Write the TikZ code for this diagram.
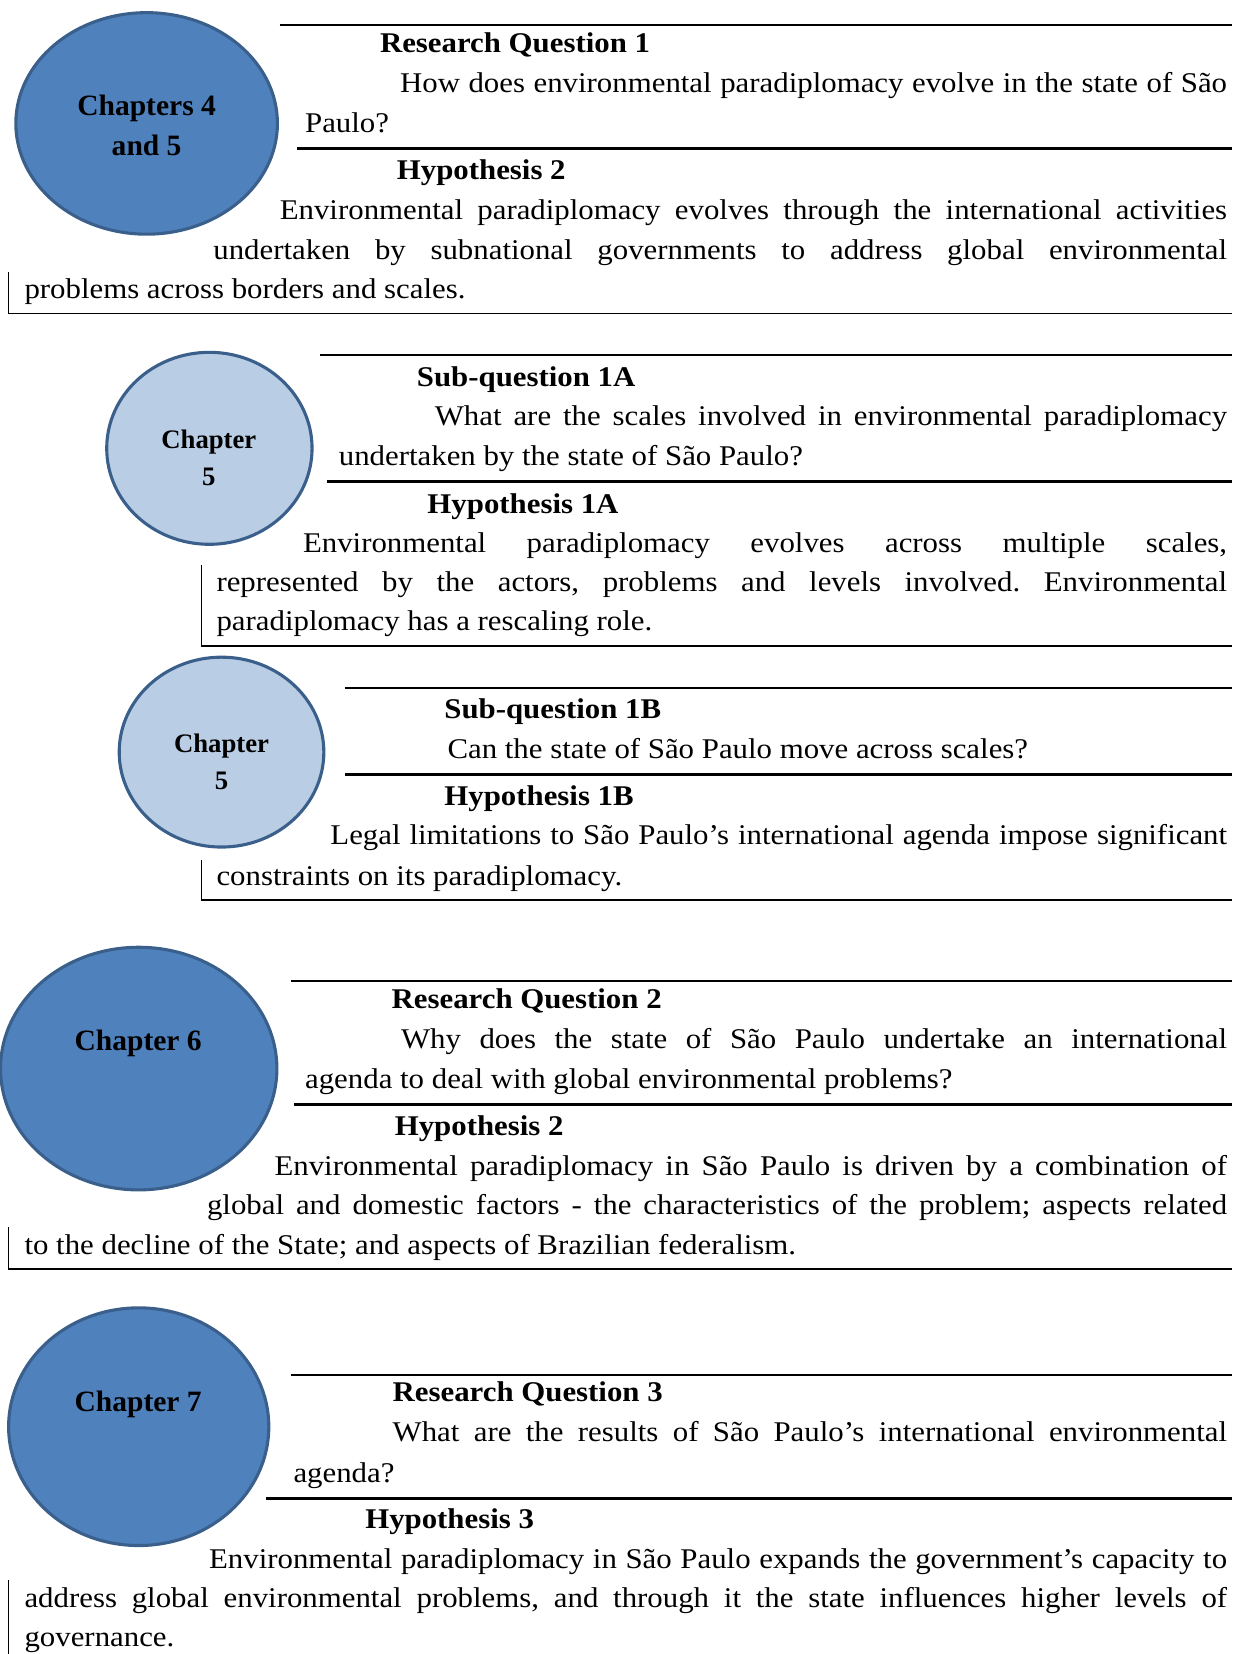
\documentclass[tikz,border=0pt]{standalone}
\usepackage{fontspec}
\setmainfont{Liberation Serif}[FakeStretch=1.08]
\newfontfamily\chapfont{Liberation Serif}
\usetikzlibrary{shapes.geometric}

\definecolor{discdark}{HTML}{4F81BD}
\definecolor{disclight}{HTML}{B9CDE5}
\definecolor{discline}{HTML}{3A5F8B}

\newlength\pxu
\setlength\pxu{0.75pt}
\newcommand\fitline[2]{\makebox[#1\pxu][s]{#2}}
\frenchspacing

\begin{document}
\begin{tikzpicture}[x=0.75pt, y=-0.75pt,
  bigdisc/.style={ellipse, draw=discline, fill=discdark, line width=2.2pt, inner sep=0pt},
  smalldisc/.style={ellipse, draw=discline, fill=disclight, line width=2.2pt, inner sep=0pt},
  chaplabel/.style={align=center, inner sep=0pt, font=\chapfont\bfseries\fontsize{21}{28.5}\selectfont},
  smalllabel/.style={align=center, inner sep=0pt, font=\chapfont\bfseries\fontsize{19}{26}\selectfont},
  head/.style={anchor=base west, inner sep=0pt, font=\fontsize{20.3}{28}\selectfont\bfseries},
  txt/.style={anchor=base west, inner sep=0pt, font=\fontsize{20.3}{28}\selectfont},
  toprule/.style={line width=1.4pt},
  midrule/.style={line width=2.1pt},
  siderule/.style={line width=1.1pt}]
  \useasboundingbox (0,0) rectangle (1168,1568);

  % Research question 1
  \node[bigdisc, minimum width=186pt, minimum height=157.5pt] (d1) at (139,117) {};
  \node[chaplabel] (c1) at (139,119) {Chapters 4\\and 5};
  \draw[toprule] (265,23.7) -- (1168,23.7);
  \node[head] (rq1) at (360,50) {Research Question 1};
  \node[txt] (rq1a) at (379,88) {\fitline{784}{How does environmental paradiplomacy evolve in the state of São}};
  \node[txt] (rq1b) at (289,126) {Paulo?};
  \draw[midrule] (282,141) -- (1168,141);
  \node[head] (h1) at (376,170) {Hypothesis 2};
  \node[txt] (h1a) at (265,208) {\fitline{898}{Environmental paradiplomacy evolves through the international activities}};
  \node[txt] (h1b) at (202,246) {\fitline{961}{undertaken by subnational governments to address global environmental}};
  \node[txt] (h1c) at (23,283) {problems across borders and scales.};
  \draw[siderule] (8,258) -- (8,297) -- (1168,297);

  % Sub-question 1A
  \node[smalldisc, minimum width=146pt, minimum height=136.5pt] (d2) at (198.5,425) {};
  \node[smalllabel] (c2) at (198,434) {Chapter\\5};
  \draw[toprule] (303,336.5) -- (1168,336.5);
  \node[head] (sq1) at (395,366) {Sub-question 1A};
  \node[txt] (sq1a) at (412,403) {\fitline{751}{What are the scales involved in environmental paradiplomacy}};
  \node[txt] (sq1b) at (321,441) {undertaken by the state of São Paulo?};
  \draw[midrule] (310,456.5) -- (1168,456.5);
  \node[head] (h2) at (405,487) {Hypothesis 1A};
  \node[txt] (h2a) at (287,524) {\fitline{876}{Environmental paradiplomacy evolves across multiple scales,}};
  \node[txt] (h2b) at (205,561) {\fitline{958}{represented by the actors, problems and levels involved. Environmental}};
  \node[txt] (h2c) at (205,598) {paradiplomacy has a rescaling role.};
  \draw[siderule] (191,536) -- (191,612.5) -- (1168,612.5);

  % Sub-question 1B
  \node[smalldisc, minimum width=145.5pt, minimum height=135pt] (d3) at (210,713) {};
  \node[smalllabel] (c3) at (210,722) {Chapter\\5};
  \draw[toprule] (327,652) -- (1168,652);
  \node[head] (sq2) at (421,681) {Sub-question 1B};
  \node[txt] (sq2a) at (424,719) {Can the state of São Paulo move across scales?};
  \draw[midrule] (327,734) -- (1168,734);
  \node[head] (h3) at (421,764) {Hypothesis 1B};
  \node[txt] (h3a) at (313,801) {\fitline{850}{Legal limitations to São Paulo’s international agenda impose significant}};
  \node[txt] (h3b) at (205,839) {constraints on its paradiplomacy.};
  \draw[siderule] (191,815) -- (191,853) -- (1168,853);

  % Research question 2
  \node[bigdisc, minimum width=196.5pt, minimum height=172.5pt] (d4) at (131.5,1013) {};
  \node[chaplabel] (c4) at (131,989) {Chapter 6};
  \draw[toprule] (276,930) -- (1168,930);
  \node[head] (rq2) at (371,956) {Research Question 2};
  \node[txt] (rq2a) at (380,994) {\fitline{783}{Why does the state of São Paulo undertake an international}};
  \node[txt] (rq2b) at (289,1032) {agenda to deal with global environmental problems?};
  \draw[midrule] (279,1047) -- (1168,1047);
  \node[head] (h4) at (374,1076) {Hypothesis 2};
  \node[txt] (h4a) at (260,1114) {\fitline{903}{Environmental paradiplomacy in São Paulo is driven by a combination of}};
  \node[txt] (h4b) at (196,1151) {\fitline{967}{global and domestic factors - the characteristics of the problem; aspects related}};
  \node[txt] (h4c) at (23,1189) {to the decline of the State; and aspects of Brazilian federalism.};
  \draw[siderule] (8,1163) -- (8,1203) -- (1168,1203);

  % Research question 3
  \node[bigdisc, minimum width=185pt, minimum height=169pt] (d5) at (131.5,1352.5) {};
  \node[chaplabel] (c5) at (131,1331) {Chapter 7};
  \draw[toprule] (276,1303.5) -- (1168,1303.5);
  \node[head] (rq3) at (372,1329) {Research Question 3};
  \node[txt] (rq3a) at (372,1367) {\fitline{791}{What are the results of São Paulo’s international environmental}};
  \node[txt] (rq3b) at (278,1405) {agenda?};
  \draw[midrule] (252,1420.5) -- (1168,1420.5);
  \node[head] (h5) at (346,1449) {Hypothesis 3};
  \node[txt] (h5a) at (198,1487) {\fitline{965}{Environmental paradiplomacy in São Paulo expands the government’s capacity to}};
  \node[txt] (h5b) at (23,1524) {\fitline{1140}{address global environmental problems, and through it the state influences higher levels of}};
  \node[txt] (h5c) at (23,1561) {governance.};
  \draw[siderule] (8,1498) -- (8,1568);
\end{tikzpicture}
\end{document}
